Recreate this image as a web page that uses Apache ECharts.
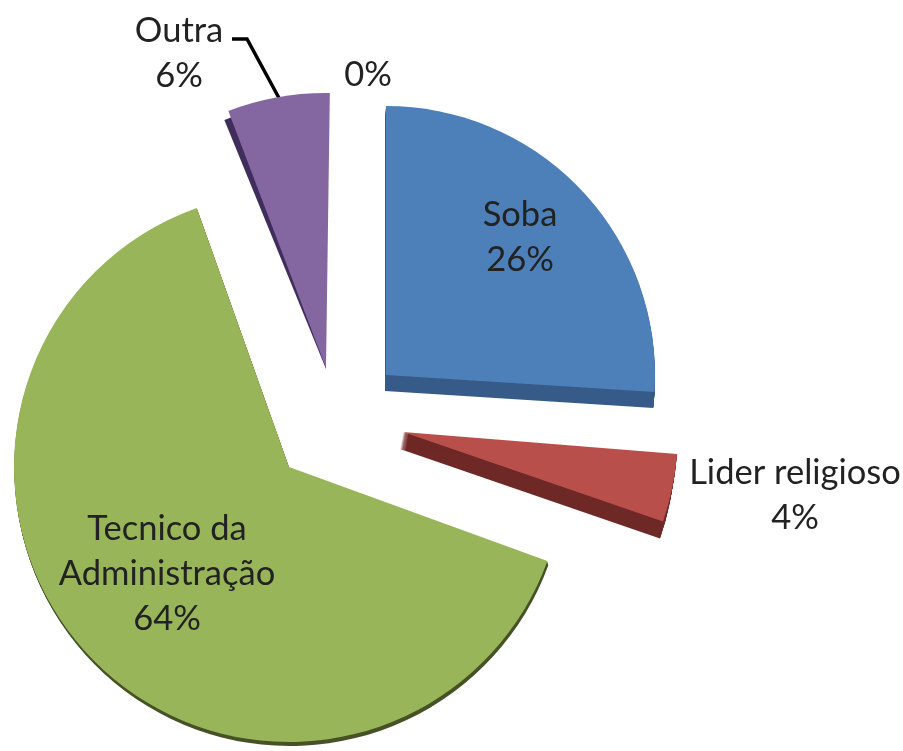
<!DOCTYPE html>
<html>
<head>
<meta charset="utf-8">
<style>
  html, body { margin: 0; padding: 0; background: #fff; }
  #chart { width: 903px; height: 751px; }
</style>
<script src="https://cdn.jsdelivr.net/npm/echarts@6/dist/echarts.min.js"></script>
</head>
<body>
<div id="chart"></div>
<script>
const categories = ["Soba", "Lider religioso", "Tecnico da\nAdministração", "Outra", ""];
const values = [26, 4, 64, 6, 0];

// one exploded slice per entry, same order as categories
const faceColors = ["#4d7fb8", "#b84f4b", "#98b55a", "#8466a0", "#fff"];
const sideColors = ["#375b88", "#6e2826", "#465226", "#3f2e5c", "#fff"];
const centers = [[386, 375], [403, 432], [289, 467], [326, 368], [355, 372]];
const radii = [269, 275, 275, 275, 268];
const startAngles = [90, 89, 88, 89.2, 90];
const sideOffsets = [[-1, 16], [-3, 17], [1, 4], [0, 1], [0, 0]];
const sideRadii = [269, 275, 275, 269, 268];
const sideAngles = [90, 89, 88, 90.6, 90];
const labelPos = [[520, 192], [795, 450], [167, 506], [179, 8], [368, 52]];
const leaderPoints = [[232, 39], [247, 39], [279, 98]];

const chart = echarts.init(document.getElementById("chart"));

function sliceData(index, color, withLabel) {
  return categories.map((name, i) => ({
    name: name,
    value: values[i],
    itemStyle: { color: i === index ? color : "transparent", borderWidth: 0 },
    label: { show: withLabel && i === index },
    labelLine: { show: withLabel && i === index && name === "Outra" }
  }));
}

function labelText(params) {
  const pct = params.percent + "%";
  return params.name ? params.name + "\n" + pct : pct;
}

const series = [];
// extrude the sides first so the faces sit on top
categories.forEach((name, i) => {
  const off = sideOffsets[i];
  const steps = Math.ceil(Math.max(Math.abs(off[0]), Math.abs(off[1])));
  for (let s = 1; s <= steps; s++) {
    const t = s / steps;
    series.push({
      type: "pie",
      silent: true,
      animation: false,
      startAngle: sideAngles[i],
      center: [centers[i][0] + off[0] * t, centers[i][1] + off[1] * t],
      radius: [0, sideRadii[i]],
      label: { show: false },
      labelLine: { show: false },
      data: sliceData(i, sideColors[i], false)
    });
  }
});
categories.forEach((name, i) => {
  series.push({
    type: "pie",
    silent: true,
    animation: false,
    startAngle: startAngles[i],
    center: centers[i],
    radius: [0, radii[i]],
    percentPrecision: 0,
    stillShowZeroSum: true,
    avoidLabelOverlap: false,
    minShowLabelAngle: 0,
    label: {
      position: "outside",
      formatter: labelText,
      fontFamily: "Lato",
      fontSize: 34.5,
      lineHeight: 45,
      color: "#222",
      align: "center"
    },
    labelLine: {
      lineStyle: { color: "#000", width: 3.5 }
    },
    labelLayout: function () {
      const out = {
        x: labelPos[i][0],
        y: labelPos[i][1],
        align: "center",
        verticalAlign: "top"
      };
      if (name === "Outra") {
        out.labelLinePoints = leaderPoints;
      }
      return out;
    },
    data: sliceData(i, faceColors[i], true)
  });
});

chart.setOption({
  backgroundColor: "#fff",
  series: series
});
</script>
</body>
</html>
